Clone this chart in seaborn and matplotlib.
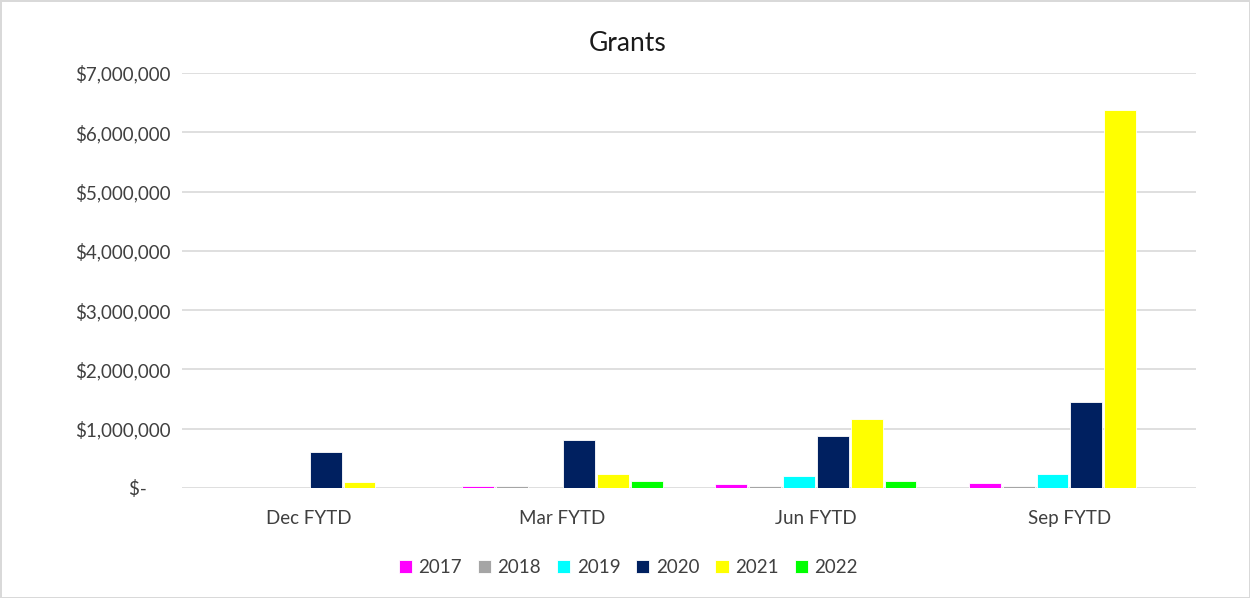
import matplotlib
matplotlib.use("Agg")
import matplotlib.pyplot as plt
from matplotlib.ticker import FuncFormatter, MultipleLocator
import seaborn as sns
import pandas as pd

# Quarterly fiscal-year-to-date grant totals by year
periods = ["Dec FYTD", "Mar FYTD", "Jun FYTD", "Sep FYTD"]
years = ["2017", "2018", "2019", "2020", "2021", "2022"]
grants_2017 = [0, 40000, 60000, 80000]
grants_2018 = [0, 35000, 40000, 40000]
grants_2019 = [0, 0, 200000, 230000]
grants_2020 = [600000, 810000, 870000, 1450000]
grants_2021 = [100000, 236000, 1160000, 6370000]
grants_2022 = [0, 118000, 120000, 0]
colors = ["#FF00FF", "#A5A5A5", "#00FFFF", "#002060", "#FFFF00", "#00FF00"]

series = [grants_2017, grants_2018, grants_2019, grants_2020, grants_2021, grants_2022]
rows = []
for yr, vals in zip(years, series):
    for p, v in zip(periods, vals):
        rows.append({"Period": p, "Year": yr, "Grants": v})
df = pd.DataFrame(rows)

sns.set_theme(style="white")
plt.rcParams["font.family"] = ["Lato", "DejaVu Sans"]

fig = plt.figure(figsize=(12.5, 5.98), dpi=100)
fig.patch.set_edgecolor("#D9D9D9")
fig.patch.set_linewidth(2)
ax = fig.add_axes([0.1456, 0.184, 0.8114, 0.694])

sns.barplot(data=df, x="Period", y="Grants", hue="Year", order=periods,
            hue_order=years, palette=colors, saturation=1, width=0.8, gap=0.06,
            edgecolor="white", linewidth=0.6, ax=ax, zorder=3)

ax.set_ylim(0, 7000000)
ax.yaxis.set_major_locator(MultipleLocator(1000000))
ax.yaxis.set_major_formatter(FuncFormatter(
    lambda v, _: "$-     " if v == 0 else f"${v:,.0f}"))
ax.grid(axis="y", color="#D9D9D9", linewidth=1.2, zorder=0)
ax.set_axisbelow(True)
for s in ax.spines.values():
    s.set_visible(False)
ax.tick_params(axis="both", length=0, labelsize=13.5, colors="#404040")
ax.tick_params(axis="y", pad=8)
ax.tick_params(axis="x", pad=16)
ax.set_xlabel("")
ax.set_ylabel("")
fig.text(0.502, 0.928, "Grants", ha="center", va="center",
         fontsize=19, color="#1a1a1a")

ax.legend(loc="upper center", bbox_to_anchor=(0.44, -0.13), ncol=6,
          frameon=False, fontsize=13.5, handlelength=0.7, handleheight=0.7,
          handletextpad=0.35, columnspacing=0.85, labelcolor="#404040")

fig.savefig("out.png", dpi=100, edgecolor=fig.get_edgecolor())
